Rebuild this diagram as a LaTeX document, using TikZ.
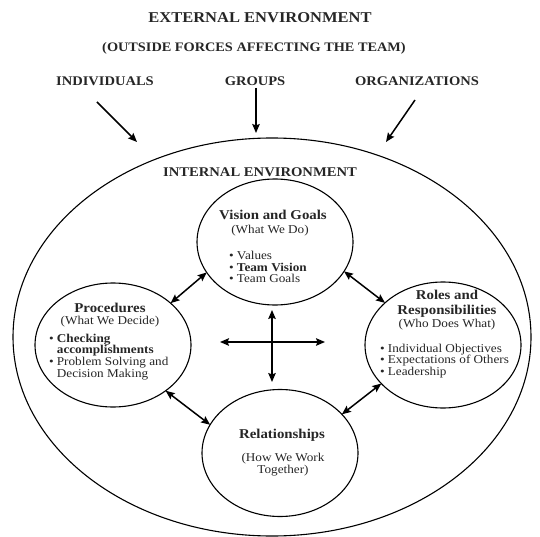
\documentclass[tikz,border=0pt]{standalone}
\usepackage{fontspec}
\setmainfont[FakeStretch=1.1]{Liberation Serif}
\usetikzlibrary{arrows.meta,shapes.geometric}
\tikzset{
  txt/.style = {inner sep=0pt, outer sep=0pt, text=black!85},
  ttl/.style = {txt, align=center, font=\fontsize{15}{18}\selectfont\bfseries},% big titles
  force/.style = {txt, align=center, font=\fontsize{13.2}{16}\selectfont\bfseries},% outside forces
  ring/.style = {ellipse, draw, line width=1.1pt, inner sep=0pt, outer sep=0pt,
    minimum width=156pt, minimum height=126pt},% the four team circles
  head/.style = {txt, align=center, font=\fontsize{13.5}{15}\selectfont\bfseries},
  sub/.style = {txt, align=center, font=\fontsize{12}{12}\selectfont},
  items/.style = {txt, align=left, anchor=west, font=\fontsize{12}{11.8}\selectfont},
  dbl/.style = {<->, line width=1.5pt},
  push/.style = {->, line width=1.5pt},
}
\newcommand{\itm}{\textbullet\ }
\newcommand{\cnt}{\phantom{\textbullet\ }}

\begin{document}
\begin{tikzpicture}[x=1pt,y=-1pt,>={Stealth[length=9pt,width=7.5pt,inset=1.5pt]}]
  \useasboundingbox (0,0) rectangle (540,537);

  % outside
  \node[ttl] (ext) at (260,18) {EXTERNAL ENVIRONMENT};
  \node[ttl, font=\fontsize{13}{16}\selectfont\bfseries] (outside) at (254,48)
    {(OUTSIDE FORCES AFFECTING THE TEAM)};
  \node[force] (indiv) at (105,81) {INDIVIDUALS};
  \node[force] (groups) at (255,81) {GROUPS};
  \node[force] (orgs) at (417,81) {ORGANIZATIONS};

  \coordinate (indiv-a) at (97,102);
  \coordinate (indiv-b) at (137,142);
  \coordinate (groups-a) at (256,88);
  \coordinate (groups-b) at (256,133);
  \coordinate (orgs-a) at (415,100);
  \coordinate (orgs-b) at (386,142);

  % inside
  \node[ellipse, draw, line width=1.1pt, inner sep=0pt, minimum width=518pt,
    minimum height=398pt] (outer) at (272,337) {};
  \node[ttl, font=\fontsize{13.3}{16}\selectfont\bfseries] (internal) at (260,172)
    {INTERNAL ENVIRONMENT};

  \node[ring] (vision) at (275,242) {};
  \node[ring, minimum height=124pt] (proc) at (113,345) {};
  \node[ring] (roles) at (443,345) {};
  \node[ring, minimum height=127pt] (rel) at (280,453) {};

  % vision and goals
  \node[head] (vision-h) at (273,215) {Vision and Goals};
  \node[sub] (vision-s) at (270,231) {(What We Do)};
  \node[items] (vision-l) at (229,267)
    {\itm Values\\ \itm \textbf{Team Vision}\\ \itm Team Goals};

  % procedures
  \node[head] (proc-h) at (110,308) {Procedures};
  \node[sub] (proc-s) at (110,322) {(What We Decide)};
  \node[items] (proc-l) at (49,357)
    {\itm \textbf{Checking}\\ \cnt\textbf{accomplishments}\\
     \itm Problem Solving and\\ \cnt Decision Making};

  % roles and responsibilities
  \node[head] (roles-h) at (447,304) {Roles and\\Responsibilities};
  \node[sub] (roles-s) at (447,325) {(Who Does What)};
  \node[items] (roles-l) at (380,361)
    {\itm Individual Objectives\\ \itm Expectations of Others\\ \itm Leadership};

  % relationships
  \node[head] (rel-h) at (282,435) {Relationships};
  \node[sub] (rel-s) at (283,465) {(How We Work\\Together)};

  % centre cross
  \coordinate (cross-n) at (272,310);
  \coordinate (cross-s) at (272,382);
  \coordinate (cross-w) at (220,342);
  \coordinate (cross-e) at (325,342);

  % outside forces
  \path[push] (indiv-a) edge (indiv-b);
  \path[push] (groups-a) edge (groups-b);
  \path[push] (orgs-a) edge (orgs-b);
  % between the circles
  \path[dbl] (vision.204) edge (proc.36);
  \path[dbl] (vision.337) edge (roles.144);
  \path[dbl] (proc.319) edge (rel.158);
  \path[dbl] (roles.212) edge (rel.32);
  \path[dbl] (cross-n) edge (cross-s);
  \path[dbl] (cross-w) edge (cross-e);
\end{tikzpicture}
\end{document}
